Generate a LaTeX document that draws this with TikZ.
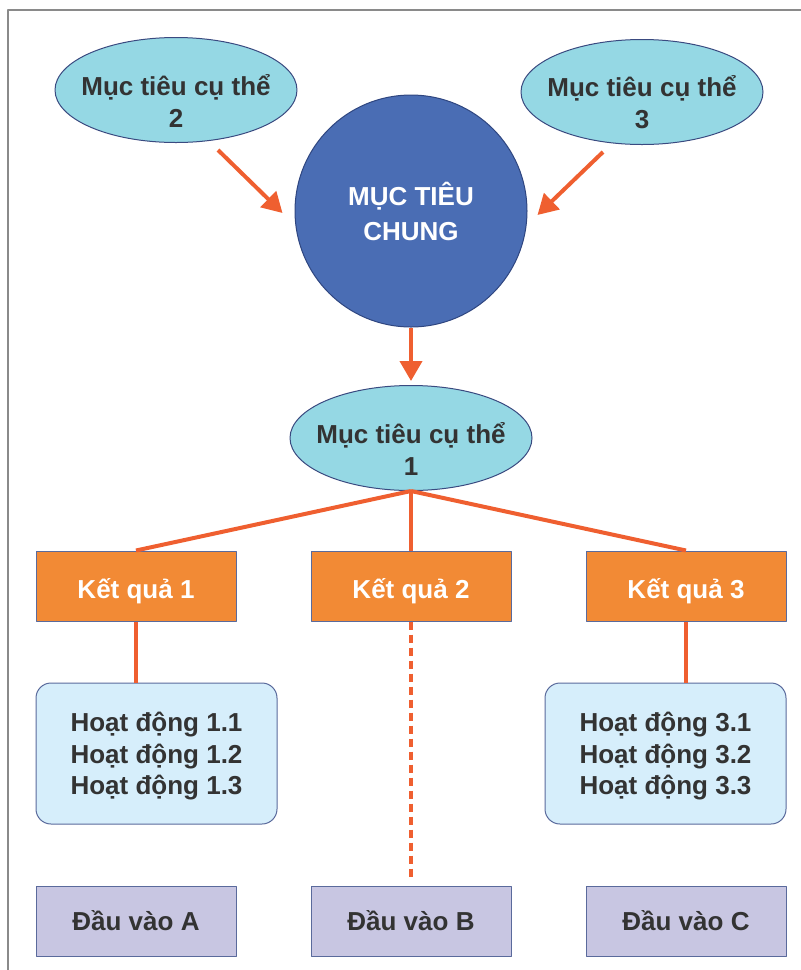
\documentclass[tikz,border=0pt]{standalone}
\usepackage{fontspec}
\setmainfont{Liberation Sans}
\usetikzlibrary{arrows.meta,shapes.geometric}
\definecolor{txtgray}{HTML}{333333}
\definecolor{lineorange}{HTML}{EF5F30}
\definecolor{ellcyan}{HTML}{95D8E4}
\definecolor{ellborder}{HTML}{3A4A80}
\definecolor{goalblue}{HTML}{4A6DB4}
\definecolor{goalborder}{HTML}{2F4680}
\definecolor{resorange}{HTML}{F28A35}
\definecolor{boxborder}{HTML}{5A6A9C}
\definecolor{actblue}{HTML}{D6EEFB}
\definecolor{inlilac}{HTML}{C8C6E2}
\definecolor{framegray}{HTML}{8A8A8A}

\begin{document}
\begin{tikzpicture}[x=1pt, y=-1pt, line join = round,
    bigtext/.style={font=\bfseries\fontsize{26}{32}\selectfont},
    spec/.style={bigtext, align=center, ellipse, draw=ellborder, line width=1pt, fill=ellcyan,
      text=txtgray, minimum width=242, minimum height=105, inner xsep=-10pt, inner ysep=-4pt},
    goal/.style={bigtext, align=center, circle, draw=goalborder, line width=1pt, fill=goalblue,
      text=white, minimum size=232, inner sep=0pt, font=\bfseries\fontsize{26}{35}\selectfont},
    result/.style={bigtext, rectangle, draw=boxborder, line width=1pt, fill=resorange,
      text=white, minimum width=200, minimum height=70, text height=24pt, text depth=0pt},
    activity/.style={bigtext, align=center, rectangle, rounded corners=15, draw=boxborder,
      line width=1pt, fill=actblue, text=txtgray, minimum width=241, minimum height=141,
      font=\bfseries\fontsize{26}{31.5}\selectfont},
    input/.style={bigtext, rectangle, draw=boxborder, line width=1pt, fill=inlilac,
      text=txtgray, minimum width=200, minimum height=70},
    link/.style={draw=lineorange, line width=4pt},
    arrowlink/.style={link, -{Triangle[width=22pt,length=20pt]}}]
  \useasboundingbox (0,0) rectangle (801,970);
  % frame
  \draw[framegray, line width=1.5pt] (8,970) -- (8,10) -- (801,10);
  % goals
  \node[goal] (g) at (411,211) {MỤC TIÊU\\CHUNG};
  \node[spec] (m2) at (176,90) {\rule{0pt}{42pt}Mục tiêu cụ thể\\2};
  \node[spec] (m3) at (642,92) {\rule{0pt}{42pt}Mục tiêu cụ thể\\3};
  \node[spec] (m1) at (411,438) {\rule{0pt}{42pt}Mục tiêu cụ thể\\1};
  % results
  \node[result] (k1) at (136,586) {Kết quả 1};
  \node[result] (k2) at (411,586) {Kết quả 2};
  \node[result] (k3) at (686,586) {Kết quả 3};
  % activities
  \node[activity] (h1) at (156.5,753.5)
    {\rule{0pt}{25pt}Hoạt động 1.1\\Hoạt động 1.2\\Hoạt động 1.3};
  \node[activity] (h3) at (665.5,753.5)
    {\rule{0pt}{25pt}Hoạt động 3.1\\Hoạt động 3.2\\Hoạt động 3.3};
  % inputs
  \node[input] (d1) at (136,921) {Đầu vào A};
  \node[input] (d2) at (411,921) {Đầu vào B};
  \node[input] (d3) at (686,921) {Đầu vào C};

  % arrows into the goal
  \draw[arrowlink] ([shift={(42,7)}]m2.south) -- ([xshift=-12,yshift=-2]g.west);
  \draw[arrowlink] ([shift={(-39,7)}]m3.south) -- ([xshift=10,yshift=-4]g.east);
  \draw[arrowlink] (g.south) -- ([yshift=4]m1.north);
  % tree
  \draw[link] (m1.south) -- (k1.north);
  \draw[link] (m1.south) -- (k2.north);
  \draw[link] (m1.south) -- (k3.north);
  \draw[link] (k1.south) -- (k1.south |- h1.north);
  \draw[link] (k3.south) -- (k3.south |- h3.north);
  \draw[link, dash pattern=on 8pt off 5pt, shorten >=6pt] (k2.south) -- (d2.north);
\end{tikzpicture}
\end{document}
